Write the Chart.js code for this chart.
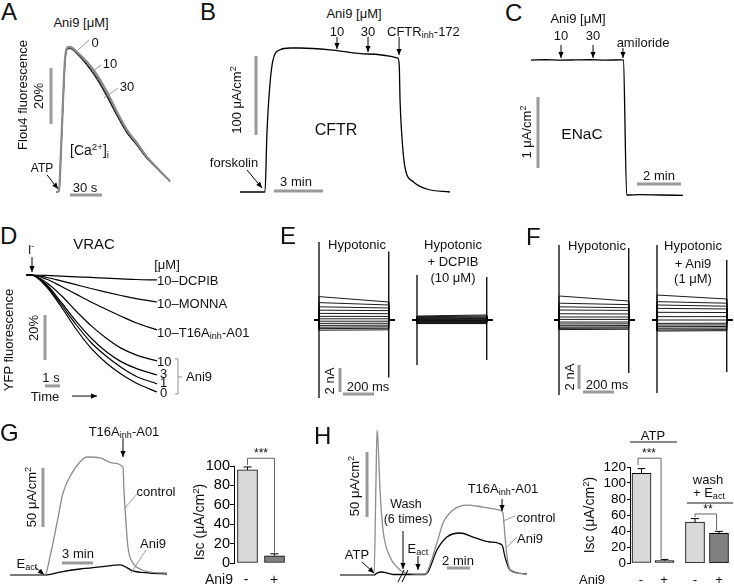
<!DOCTYPE html>
<html>
<head>
<meta charset="utf-8">
<title>Ani9 selectivity</title>
<script src="https://cdn.jsdelivr.net/npm/chart.js@4.4.1/dist/chart.umd.min.js"></script>
<style>
  body { margin: 0; background: #fff; }
  #fig { position: relative; width: 734px; height: 584px; overflow: hidden;
         font-family: "Liberation Sans", Arial, Helvetica, sans-serif; color: #111; }
  #fig canvas { position: absolute; }
  .t { position: absolute; white-space: nowrap; line-height: 1; transform: translate(-50%, -50%); }
  .t.l { transform: translate(0, -50%); }
  .t.v { transform: translate(-50%, -50%) rotate(-90deg); }
  .t.L { transform: none; }
  .t sub { font-size: 70%; vertical-align: -0.3em; line-height: 0; }
  .t sup { font-size: 70%; vertical-align: 0.55em; line-height: 0; }
  .rule { position: absolute; background: #8a8a8a; }
</style>
</head>
<body>
<div id="fig"></div>
<script>
// ---- A: Fluo4 [Ca2+]i response (s, %)
const aTime  = [0, 2.8, 4.7, 6.6, 8.4, 10.3, 13.1, 19.7, 29.1, 38.4, 47.8, 57.2, 66.6, 75.9, 85.3, 97.5, 106.9];
const aCa0   = [0, 0.4, 15, 32.9, 47.1, 51.4, 51.8, 50, 46.4, 41.8, 35.7, 28.6, 22.1, 17.5, 12.5, 7.5, 3.9];
const aCa10  = [0, 0.4, 14.5, 32, 46.5, 51, 51.5, 49.6, 45.6, 40.8, 34.6, 27.6, 21.4, 16.9, 12.1, 7.3, 3.8];
const aCa30  = [0, 0.3, 14, 31.5, 46, 50.8, 51.2, 49.2, 45.2, 40.2, 34.0, 27.2, 21.0, 16.6, 11.9, 7.2, 3.7];

// ---- B: CFTR short-circuit current (min, uA/cm2)
const bTime = [0, 1.53, 1.65, 1.84, 2.02, 2.45, 3.06, 3.67, 5.69, 7.78, 9.67, 9.755, 9.80, 9.90, 10.10, 10.61, 11.43, 12.86];
const bIsc  = [0, 0, 74.7, 138, 167, 180, 182.3, 182.3, 179.7, 174.7, 169.6, 158.6, 116.5, 74.7, 31.6, 13, 3.8, 0];

// ---- C: ENaC current (min, uA/cm2)
const cTime = [0, 0.64, 1.32, 2.0, 2.68, 3.36, 4.14, 4.20, 4.35, 4.95, 5.86, 6.91];
const cIsc  = [1.90, 1.905, 1.90, 1.902, 1.905, 1.90, 1.903, 1.90, 0, 0.005, 0, -0.005];

// ---- D: VRAC YFP quenching (s, % change)
const dTime   = [-0.3, 0, 1, 2, 3, 4, 5, 6, 7, 8.4];
const dAni0   = [0, 0, -5, -14, -24, -32.5, -39, -44, -48, -52];
const dAni1   = [0, 0, -4.5, -13, -22, -30, -36, -41, -45, -48.4];
const dAni3   = [0, 0, -4, -12, -20.5, -28, -34, -38.5, -41.5, -44.4];
const dAni10  = [0, 0, -3.2, -9, -16, -22.5, -28, -32.5, -35.5, -38.2];
const dT16A   = [0, 0, -1.8, -5, -8.5, -12, -15.2, -18.3, -21.2, -24.4];
const dMonna  = [0, 0, -1, -2.6, -4.3, -6, -7.6, -9.1, -10.5, -12];
const dDcpib  = [0, 0, -0.2, -0.5, -0.8, -1.1, -1.4, -1.7, -2.0, -2.2];

// ---- E/F: whole-cell step currents (nA at step start / end, transients)
const STEP_MS = 450;
const eHypoStart  = [1.95, 1.45, 1.1, 0.82, 0.55, 0.3, 0.1, -0.1, -0.28, -0.45, -0.6, -0.72, -0.85];
const eHypoEnd    = [1.5, 1.25, 1.0, 0.78, 0.53, 0.3, 0.1, -0.1, -0.27, -0.43, -0.57, -0.69, -0.82];
const eHypoOn     = [-6.5, 6.5];
const eHypoOff    = [-4.8, 5.7];
const eDcpibStart = [0.33, 0.27, 0.21, 0.15, 0.1, 0.05, 0, -0.05, -0.1, -0.15, -0.2, -0.25, -0.3];
const eDcpibEnd   = [0.42, 0.33, 0.25, 0.18, 0.12, 0.06, 0, -0.05, -0.1, -0.15, -0.2, -0.25, -0.3];
const eDcpibOn    = [-3.75, 3.75];
const eDcpibOff   = [-3.33, 3.58];
const fHypoStart  = [2.0, 1.4, 1.1, 0.83, 0.52, 0.25, 0.05, -0.17, -0.33, -0.48, -0.6, -0.7, -0.8];
const fHypoEnd    = [1.58, 1.28, 1.02, 0.8, 0.5, 0.25, 0.05, -0.17, -0.32, -0.46, -0.58, -0.67, -0.77];
const fHypoOn     = [-6.25, 6.25];
const fHypoOff    = [-4.42, 6.0];
const fAniStart   = [2.08, 1.53, 1.25, 0.97, 0.64, 0.28, 0, -0.28, -0.42, -0.56, -0.69, -0.83, -0.92];
const fAniEnd     = [1.75, 1.4, 1.15, 0.92, 0.62, 0.28, 0, -0.27, -0.41, -0.54, -0.67, -0.8, -0.89];
const fAniOn      = [-6.08, 6.25];
const fAniOff     = [-4.33, 5.0];

// ---- G: Eact-activated TMEM16A current (min, uA/cm2) + summary
const gTime    = [0, 3.39, 3.87, 4.55, 5.13, 6.0, 6.78, 7.45, 8.71, 9.97, 10.94, 11.03, 11.13, 11.42, 11.91, 12.58, 13.55, 15.2];
const gControl = [0, 0, 15.3, 44.1, 69.5, 86.4, 95.8, 100, 99.2, 94.9, 91.5, 72, 57.6, 23.7, 10.2, 5.1, 2.5, 1.7];
const gAniTime = [0, 3.39, 4.84, 6.78, 8.71, 10.65, 11.03, 11.91, 13.55, 15.2];
const gAni     = [0, 0, 2.5, 5.1, 6.8, 8.5, 7.6, 3.4, 1.7, 0.85];
const gCats    = ['-', '+'];
const gIsc     = [96, 7.5];
const gErr     = [3, 2];

// ---- H: ATP then Eact after wash (min, uA/cm2) + summary
const hTime    = [0, 2.96, 3.13, 3.22, 3.30, 3.48, 3.74, 4.35, 4.96, 5.48, 6.70, 7.39, 7.65, 8.43, 8.96, 9.83, 11.04, 12.43, 13.91, 14.17, 14.35, 14.61, 15.04, 16.26];
const hControl = [0, 0, 73.1, 111.5, 103.8, 65.4, 34.6, 13.8, 6.15, 2.3, 0.77, 0.77, 3.85, 24.6, 40, 50, 53.8, 52.3, 50, 47.7, 29.2, 9.2, 2.3, 0.77];
const hAniTime = [0, 2.96, 3.22, 3.6, 4.1, 4.6, 5.48, 7.39, 7.65, 8.43, 9.30, 10.43, 11.57, 13.04, 14.09, 14.35, 14.78, 16.26];
const hAni     = [0, 0, 1.5, 2.3, 1.5, 0.4, 0.4, 0.4, 2.3, 19.2, 29.2, 32.3, 29.2, 25.4, 23.1, 13.8, 3.85, 0.77];
const hCats    = ['-', '+'];
const hAtpIsc  = [112, 3];
const hAtpErr  = [6, 1.5];
const hWashIsc = [51, 37];
const hWashErr = [4.5, 2.5];

// ---------------------------------------------------------------
const GRAY = '#9a9a9a';   // scale bars
const LEAD = '#808080';   // leader lines
const LIGHT = '#d9d9d9', DARK = '#7f7f7f';
const fig = document.getElementById('fig');
Chart.defaults.font.family = '"Liberation Sans", Arial, sans-serif';
Chart.defaults.color = '#111';

// draws scale bars, arrows, brackets and leader lines in data units
function marksPlugin(marks) {
  return {
    id: 'marks',
    afterDatasetsDraw(chart) {
      const ctx = chart.ctx, xs = chart.scales.x, ys = chart.scales.y;
      const px = v => xs.getPixelForValue(v), py = v => ys.getPixelForValue(v);
      ctx.save();
      ctx.lineCap = 'butt';
      for (const m of marks) {
        const p = m.pts.map(q => [px(q[0]), py(q[1])]);
        ctx.strokeStyle = m.color || '#000';
        ctx.lineWidth = m.w || 1;
        ctx.beginPath();
        p.forEach((q, i) => i ? ctx.lineTo(q[0], q[1]) : ctx.moveTo(q[0], q[1]));
        ctx.stroke();
        if (m.head) {
          const [x1, y1] = p[p.length - 2], [x2, y2] = p[p.length - 1];
          const a = Math.atan2(y2 - y1, x2 - x1), L = 6, W = 2.6;
          ctx.fillStyle = m.color || '#000';
          ctx.beginPath();
          ctx.moveTo(x2, y2);
          ctx.lineTo(x2 - L * Math.cos(a) + W * Math.sin(a), y2 - L * Math.sin(a) - W * Math.cos(a));
          ctx.lineTo(x2 - L * Math.cos(a) - W * Math.sin(a), y2 - L * Math.sin(a) + W * Math.cos(a));
          ctx.closePath();
          ctx.fill();
        }
      }
      ctx.restore();
    }
  };
}

function addChart(left, top, w, h, config) {
  const c = document.createElement('canvas');
  c.width = w; c.height = h;
  c.style.cssText = `left:${left}px;top:${top}px;width:${w}px;height:${h}px`;
  fig.appendChild(c);
  return new Chart(c, config);
}

function trace(xs, ys, color, width, smooth = true) {
  return {
    data: xs.map((x, i) => ({ x, y: ys[i] })),
    borderColor: color, borderWidth: width, fill: false, pointRadius: 0,
    cubicInterpolationMode: smooth ? 'monotone' : 'default', tension: 0, clip: false
  };
}

function traceConfig(xr, yr, datasets, marks) {
  return {
    type: 'line',
    data: { datasets },
    options: {
      responsive: false, animation: false, devicePixelRatio: 1, events: [],
      layout: { padding: 0 },
      plugins: { legend: { display: false }, tooltip: { enabled: false } },
      scales: {
        x: { type: 'linear', display: false, min: xr[0], max: xr[1] },
        y: { type: 'linear', display: false, min: yr[0], max: yr[1] }
      }
    },
    plugins: [marksPlugin(marks)]
  };
}

function stepTraces(starts, ends, on, off) {
  const sets = starts.map((s, i) =>
    trace([-32, 0, 0, STEP_MS, STEP_MS, STEP_MS + 38], [0, 0, s, ends[i], 0, 0], '#000', 0.9, false));
  sets.push(trace([0, 0], on, '#000', 1.3, false));
  sets.push(trace([STEP_MS, STEP_MS], off, '#000', 1.3, false));
  return sets;
}

function errMarks(vals, errs, cap) {
  const m = [];
  vals.forEach((v, i) => {
    m.push({ pts: [[i, v], [i, v + errs[i]]] });
    m.push({ pts: [[i - cap, v + errs[i]], [i + cap, v + errs[i]]] });
  });
  return m;
}

function barConfig(cats, vals, errs, axis, marks, pad) {
  return {
    type: 'bar',
    data: { labels: cats, datasets: [{
      data: vals, backgroundColor: [LIGHT, DARK], borderColor: '#000', borderWidth: 1,
      borderSkipped: false, barThickness: axis ? axis.bar : 19
    }] },
    options: {
      responsive: false, animation: false, devicePixelRatio: 1, events: [],
      layout: { padding: pad },
      plugins: { legend: { display: false }, tooltip: { enabled: false } },
      scales: {
        x: { display: false, offset: true },
        y: axis ? {
          min: 0, max: axis.max,
          ticks: { stepSize: 20, autoSkip: false, color: '#000', font: { size: axis.font }, padding: axis.tickPad },
          grid: { drawOnChartArea: false, drawTicks: true, tickLength: axis.tick, color: '#000' },
          border: { color: '#000', width: 1 },
          afterFit(s) { s.width = axis.width; }
        } : { display: false, min: 0, max: 120 }
      }
    },
    plugins: [marksPlugin(marks)]
  };
}

// ---- A
addChart(40, 30, 140, 170, traceConfig([-15, 116.25], [-2.857, 57.86], [
  trace(aTime, aCa0, '#8a8a8a', 2.2),
  trace(aTime, aCa10, '#222', 1.1),
  trace(aTime, aCa30, '#000', 1)
], [
  { pts: [[-4.69, 24.3], [-4.69, 44.3]], color: GRAY, w: 3 },
  { pts: [[13.1, -1.07], [43.1, -1.07]], color: GRAY, w: 3 },
  { pts: [[-8.4, 6.1], [1.9, 1.1]], head: true },
  { pts: [[20.6, 50.7], [30.9, 54.3]], color: LEAD, w: 0.8 },
  { pts: [[33.75, 42.9], [42.2, 45.4]], color: LEAD, w: 0.8 },
  { pts: [[45, 33.6], [58.1, 37.1]], color: LEAD, w: 0.8 }
]));

// ---- B
addChart(215, 30, 240, 170, traceConfig([-1.531, 13.166], [-10.13, 205.06], [
  trace(bTime, bIsc, '#000', 1.3)
], [
  { pts: [[0.98, 72.2], [0.98, 172.2]], color: GRAY, w: 3 },
  { pts: [[2.08, 1.27], [5.08, 1.27]], color: GRAY, w: 3 },
  { pts: [[5.94, 196.2], [5.94, 181]], head: true },
  { pts: [[7.84, 196.2], [7.84, 177.2]], head: true },
  { pts: [[9.74, 196.2], [9.74, 173.4]], head: true },
  { pts: [[0.43, 27.8], [1.35, 5.1]], head: true }
]));

// ---- C
addChart(500, 30, 200, 175, traceConfig([-1.409, 7.682], [-0.141, 2.324], [
  trace(cTime, cIsc, '#000', 1.3)
], [
  { pts: [[0.318, 0.38], [0.318, 1.38]], color: GRAY, w: 3 },
  { pts: [[4.82, 0.155], [6.82, 0.155]], color: GRAY, w: 3 },
  { pts: [[1.364, 2.113], [1.364, 1.93]], head: true },
  { pts: [[2.82, 2.113], [2.82, 1.93]], head: true },
  { pts: [[4.18, 2.07], [4.18, 1.93]], head: true }
]));

// ---- D
addChart(10, 250, 200, 160, traceConfig([-1.4, 11.93], [-60, 11.11], [
  trace(dTime, dDcpib, '#000', 1.2),
  trace(dTime, dMonna, '#000', 1.2),
  trace(dTime, dT16A, '#000', 1.2),
  trace(dTime, dAni10, '#000', 1.2),
  trace(dTime, dAni3, '#000', 1.2),
  trace(dTime, dAni1, '#000', 1.2),
  trace(dTime, dAni0, '#000', 1.2)
], [
  { pts: [[0.933, -17.8], [0.933, -37.8]], color: GRAY, w: 3 },
  { pts: [[0.933, -49.3], [1.933, -49.3]], color: GRAY, w: 3 },
  { pts: [[0.067, 8], [0.067, 1.3]], head: true },
  { pts: [[2.73, -53.8], [4.4, -53.8]], head: true },
  { pts: [[9.6, -37.3], [9.8, -37.3], [9.8, -52.9], [9.6, -52.9]], color: '#777', w: 0.8 },
  { pts: [[9.8, -45.3], [10.07, -45.3]], color: '#777', w: 0.8 }
]));

// ---- E / F (same time and current scale)
const ephysX = [-77.4, 541.9], ephysY = [-7.083, 7.083];
addChart(307, 235, 96, 170, traceConfig(ephysX, ephysY, stepTraces(eHypoStart, eHypoEnd, eHypoOn, eHypoOff), [
  { pts: [[135.5, -6], [135.5, -4]], color: GRAY, w: 3 },
  { pts: [[155, -6.17], [355, -6.17]], color: GRAY, w: 3 }
]));
addChart(405, 235, 96, 170, traceConfig(ephysX, ephysY, stepTraces(eDcpibStart, eDcpibEnd, eDcpibOn, eDcpibOff), []));
addChart(547, 235, 96, 170, traceConfig(ephysX, ephysY, stepTraces(fHypoStart, fHypoEnd, fHypoOn, fHypoOff), [
  { pts: [[129, -5.75], [129, -3.75]], color: GRAY, w: 3 },
  { pts: [[155, -6.0], [355, -6.0]], color: GRAY, w: 3 }
]));
addChart(645, 235, 96, 170, traceConfig(ephysX, ephysY, stepTraces(fAniStart, fAniEnd, fAniOn, fAniOff), []));

// ---- G
addChart(5, 430, 165, 150, traceConfig([-0.484, 15.49], [-4.24, 122.9], [
  trace(gTime, gControl, '#8c8c8c', 1.3),
  trace(gAniTime, gAni, '#000', 1.3)
], [
  { pts: [[3.19, 40.7], [3.19, 90.7]], color: GRAY, w: 3 },
  { pts: [[5.03, 10.2], [8.03, 10.2]], color: GRAY, w: 3 },
  { pts: [[10.94, 116], [10.94, 100]], head: true },
  { pts: [[2.42, 6.8], [3.29, 0.3]], head: true },
  { pts: [[11.13, 56.8], [12.29, 68.6]], color: LEAD, w: 0.8 },
  { pts: [[11.71, 1.7], [13.17, 21.2]], color: LEAD, w: 0.8 }
]));
addChart(198, 456, 94, 117, barConfig(gCats, gIsc, gErr,
  { max: 100, font: 14.5, tick: 4, tickPad: 0, width: 36, bar: 20 },
  errMarks(gIsc, gErr, 0.15).concat([
    { pts: [[0, 100.9], [0, 108], [1, 108], [1, 10.6]], color: '#666', w: 1 }
  ]),
  { top: 10, bottom: 10, left: 0, right: 4 }));

// ---- H
addChart(330, 425, 230, 158, traceConfig([-0.87, 19.13], [-6.15, 115.4], [
  trace(hTime, hControl, '#8c8c8c', 1.3),
  trace(hAniTime, hAni, '#000', 1.3)
], [
  { pts: [[2.35, 44.6], [2.35, 94.6]], color: GRAY, w: 3 },
  { pts: [[9.30, 5.38], [11.30, 5.38]], color: GRAY, w: 3 },
  { pts: [[1.91, 10], [2.96, 1.54]], head: true },
  { pts: [[5.48, 33.8], [5.48, 4.6]], head: true },
  { pts: [[6.78, 14.6], [6.78, 3.85]], head: true },
  { pts: [[14.09, 58.5], [14.09, 49.2]], head: true },
  { pts: [[5.04, -5.4], [5.57, 3.85]], w: 1 },
  { pts: [[5.39, -5.4], [5.91, 3.85]], w: 1 },
  { pts: [[14.17, 41.5], [15.22, 45.4]], color: LEAD, w: 0.8 },
  { pts: [[14.52, 21.5], [15.39, 29.2]], color: LEAD, w: 0.8 }
]));
addChart(596, 451, 82, 122, barConfig(hCats, hAtpIsc, hAtpErr,
  { max: 120, font: 13.5, tick: 3, tickPad: 1, width: 34, bar: 19 },
  errMarks(hAtpIsc, hAtpErr, 0.17).concat([
    { pts: [[-0.15, 122.5], [-0.15, 131], [0.85, 131], [0.85, 6]], color: '#666', w: 1 }
  ]),
  { top: 16, bottom: 10, left: 0, right: 2 }));
addChart(683, 451, 50, 122, barConfig(hCats, hWashIsc, hWashErr, null,
  errMarks(hWashIsc, hWashErr, 0.17).concat([
    { pts: [[0, 57.5], [0, 61.3], [0.9, 61.3], [0.9, 41]], color: '#666', w: 1 }
  ]),
  { top: 16, bottom: 10, left: 0, right: 2 }));

// ---- text (html, x, y, size, mode: c centre / l left / v vertical / L letter)
const UM = '\u03bcM', UA = '\u03bcA/cm<sup>2</sup>';
const texts = [
  ['A', 1, 0, 24, 'L'], ['B', 200, 0, 24, 'L'], ['C', 505, 1, 24, 'L'],
  ['D', 0, 224, 24, 'L'], ['E', 280, 224, 24, 'L'], ['F', 526, 225, 24, 'L'],
  ['G', 0, 421, 24, 'L'], ['H', 314, 424, 24, 'L'],
  // A
  ['Ani9 [' + UM + ']', 81, 22, 13], ['0', 95, 42, 13], ['10', 110, 63, 13], ['30', 127, 86, 13],
  ['Flou4 fluorescence', 22, 95, 13, 'v'], ['20%', 38, 96, 13, 'v'],
  ['[Ca<sup>2+</sup>]<sub>i</sub>', 70, 150, 14, 'l'], ['ATP', 42, 168, 12], ['30 s', 85, 187, 13],
  // B
  ['Ani9 [' + UM + ']', 354, 13, 13], ['10', 337, 31, 13], ['30', 368, 31, 13],
  ['CFTR<sub>inh</sub>-172', 387, 31, 13, 'l'], ['100 ' + UA, 236, 100, 13, 'v'],
  ['CFTR', 336, 130, 16], ['forskolin', 234, 162, 13], ['3 min', 296, 181, 13],
  // C
  ['Ani9 [' + UM + ']', 578, 18, 13], ['10', 561, 35, 13], ['30', 593, 35, 13],
  ['amiloride', 643, 42, 13], ['ENaC', 582, 134, 15.5], ['1 ' + UA, 526, 132, 13, 'v'], ['2 min', 659, 175, 13],
  // D
  ['VRAC', 94, 243, 15], ['I<sup>-</sup>', 31, 250, 12], ['[' + UM + ']', 167, 264, 13],
  ['10\u2013DCPIB', 157, 280, 13, 'l'], ['10\u2013MONNA', 157, 303, 13, 'l'],
  ['10\u2013T16A<sub>inh</sub>-A01', 157, 332, 13, 'l'],
  ['10', 157, 361, 13, 'l'], ['3', 160, 373, 13, 'l'], ['1', 160, 382, 13, 'l'], ['0', 160, 392, 13, 'l'],
  ['Ani9', 186, 376, 13, 'l'], ['YFP fluorescence', 8, 340, 13, 'v'], ['20%', 33, 328, 13, 'v'],
  ['1 s', 51, 377, 13], ['Time', 45, 396, 13],
  // E
  ['Hypotonic', 357, 244, 13], ['Hypotonic', 453, 244, 13], ['+ DCPIB', 453, 261, 13],
  ['(10 ' + UM + ')', 453, 277, 13], ['2 nA', 329, 381, 13, 'v'], ['200 ms', 368, 386, 13],
  // F
  ['Hypotonic', 597, 245, 13], ['Hypotonic', 693, 245, 13], ['+ Ani9', 693, 263, 13],
  ['(1 ' + UM + ')', 693, 278, 13], ['2 nA', 569, 377, 13, 'v'], ['200 ms', 607, 384, 13],
  // G
  ['T16A<sub>inh</sub>-A01', 124, 431, 13], ['control', 156, 491, 13], ['Ani9', 153, 543, 13],
  ['E<sub>act</sub>', 27, 563, 13], ['50 ' + UA, 31, 497, 13, 'v'], ['3 min', 78, 553, 13],
  ['Isc (' + UA + ')', 199, 522, 14, 'v'], ['***', 261, 453, 12],
  ['Ani9', 219, 579, 14], ['-', 246, 579, 14], ['+', 274, 579, 14],
  // H
  ['50 ' + UA, 354, 486, 13, 'v'], ['ATP', 357, 554, 13], ['Wash', 406, 504, 12.5],
  ['(6 times)', 408, 519, 12.5], ['E<sub>act</sub>', 418, 548, 13],
  ['T16A<sub>inh</sub>-A01', 503, 488, 13], ['control', 536, 517, 13], ['Ani9', 530, 538, 13],
  ['2 min', 458, 560, 13],
  ['ATP', 653, 435, 13], ['wash', 708, 479, 13], ['+ E<sub>act</sub>', 709, 492, 13],
  ['***', 649, 453, 12], ['**', 708, 509, 12],
  ['Isc (' + UA + ')', 589, 515, 14, 'v'],
  ['Ani9', 592, 579, 13], ['-', 641, 579, 13], ['+', 664, 579, 13], ['-', 695, 579, 13], ['+', 719, 579, 13]
];
for (const [html, x, y, size, mode] of texts) {
  const d = document.createElement('div');
  d.className = 't' + (mode ? ' ' + mode : '');
  d.innerHTML = html;
  d.style.left = x + 'px';
  d.style.top = y + 'px';
  d.style.fontSize = size + 'px';
  fig.appendChild(d);
}
// grey group rules over the H summary bars
for (const [x, y, w, h] of [[630, 441, 47, 2], [687, 502, 46, 2]]) {
  const r = document.createElement('div');
  r.className = 'rule';
  r.style.cssText = `left:${x}px;top:${y}px;width:${w}px;height:${h}px`;
  fig.appendChild(r);
}
</script>
</body>
</html>
